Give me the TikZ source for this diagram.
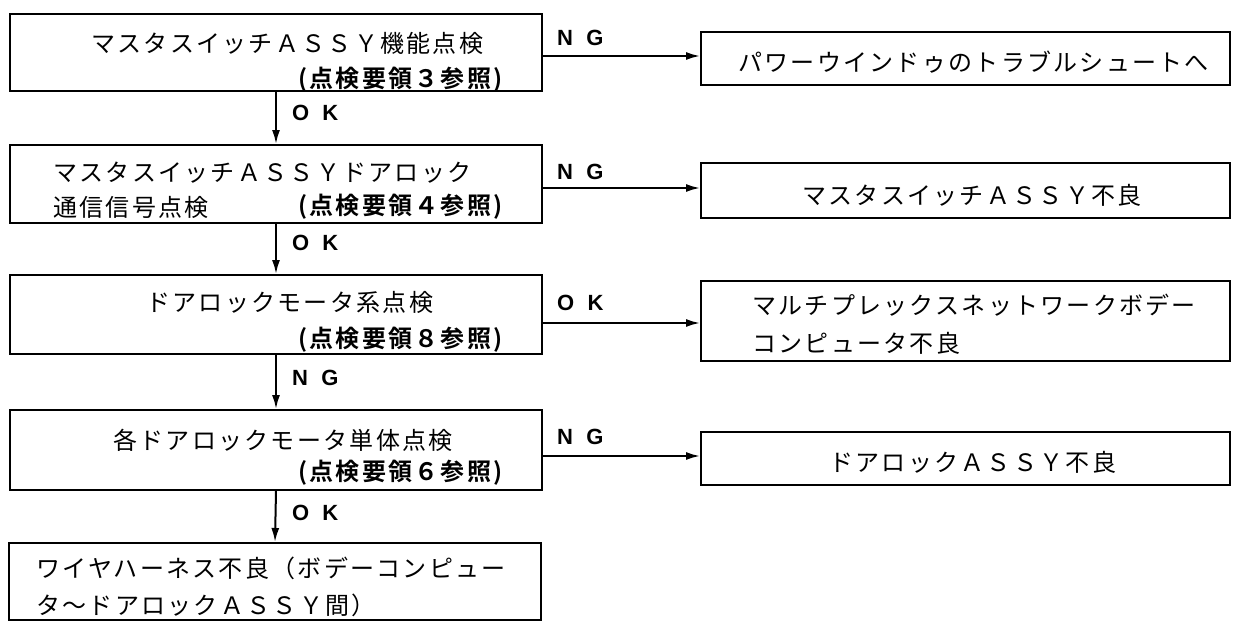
\documentclass[tikz,border=0pt]{standalone}
\usepackage{fontspec}
\usetikzlibrary{arrows.meta,calc}
\newfontfamily\jp[LetterSpace=9.5]{Noto Sans CJK JP}
\newfontfamily\jpb[LetterSpace=9.5]{Noto Sans CJK JP Bold}
\newfontfamily\lab[LetterSpace=60]{Liberation Sans Bold}
\begin{document}
\begin{tikzpicture}[x=1pt,y=-1pt,
  box/.style={draw, line width=2pt, inner sep=0pt, rectangle},
  txt/.style={anchor=west, inner sep=0pt, font=\jp\fontsize{24}{24}\selectfont},
  btxt/.style={anchor=west, inner sep=0pt, font=\jpb\fontsize{24}{24}\selectfont},
  lbl/.style={anchor=west, inner sep=0pt, font=\lab\fontsize{22}{22}\selectfont},
  arr/.style={line width=2pt, -{Latex[length=14pt,width=8pt]}}]
\useasboundingbox (0,0) rectangle (1233,623);
% left boxes
\node[box, minimum width=532pt, minimum height=77pt] (b1) at (276,52.5) {};
\node[box, minimum width=532pt, minimum height=78pt] (b2) at (276,184) {};
\node[box, minimum width=532pt, minimum height=79pt] (b3) at (276,314.5) {};
\node[box, minimum width=532pt, minimum height=80pt] (b4) at (276,450) {};
\node[box, minimum width=532pt, minimum height=77pt] (b5) at (275,581.5) {};
% right boxes
\node[box, minimum width=529pt, minimum height=53pt] (r1) at (965.5,58.5) {};
\node[box, minimum width=529pt, minimum height=55pt] (r2) at (965.5,190.5) {};
\node[box, minimum width=529pt, minimum height=80pt] (r3) at (965.5,321) {};
\node[box, minimum width=529pt, minimum height=53pt] (r4) at (965.5,458.5) {};
% texts
\node[txt] (t1a) at (91,43) {マスタスイッチＡＳＳＹ機能点検};
\node[btxt] (t1b) at (298,80) {(点検要領３参照)};
\node[txt] (t2a) at (53,173) {マスタスイッチＡＳＳＹドアロック};
\node[txt] (t2b) at (53,207) {通信信号点検};
\node[btxt] (t2c) at (298,207) {(点検要領４参照)};
\node[txt] (t3a) at (146,302) {ドアロックモータ系点検};
\node[btxt] (t3b) at (298,340) {(点検要領８参照)};
\node[txt] (t4a) at (113,440) {各ドアロックモータ単体点検};
\node[btxt] (t4b) at (298,473) {(点検要領６参照)};
\node[txt] (t5a) at (36,568) {ワイヤハーネス不良（ボデーコンピュー};
\node[txt] (t5b) at (36,605) {タ～ドアロックＡＳＳＹ間）};
\node[txt] (s1) at (738,62) {パワーウインドゥのトラブルシュートへ};
\node[txt] (s2) at (802,195) {マスタスイッチＡＳＳＹ不良};
\node[txt] (s3a) at (752,305) {マルチプレックスネットワークボデー};
\node[txt] (s3b) at (752,343) {コンピュータ不良};
\node[txt] (s4) at (829,462) {ドアロックＡＳＳＹ不良};
% vertical connectors
\draw[arr] (b1.south) -- (b2.north);
\draw[arr] (b2.south) -- (b3.north);
\draw[arr] (b3.south) -- (b4.north);
\draw[arr] (b4.south) -- (b5.north);
% horizontal connectors
\draw[arr] ([yshift=-3.5pt]b1.east) -- ([yshift=-3.5pt]b1.east -| r1.west);
\draw[arr] ([yshift=-4pt]b2.east) -- ([yshift=-4pt]b2.east -| r2.west);
\draw[arr] ([yshift=-8.5pt]b3.east) -- ([yshift=-8.5pt]b3.east -| r3.west);
\draw[arr] ([yshift=-6pt]b4.east) -- ([yshift=-6pt]b4.east -| r4.west);
% labels
\node[lbl] (l1) at (292,113) {OK};
\node[lbl] (l2) at (292,243) {OK};
\node[lbl] (l3) at (292,378) {NG};
\node[lbl] (l4) at (292,513) {OK};
\node[lbl] (h1) at (557,38) {NG};
\node[lbl] (h2) at (557,172) {NG};
\node[lbl] (h3) at (557,303) {OK};
\node[lbl] (h4) at (557,437) {NG};
\end{tikzpicture}
\end{document}
